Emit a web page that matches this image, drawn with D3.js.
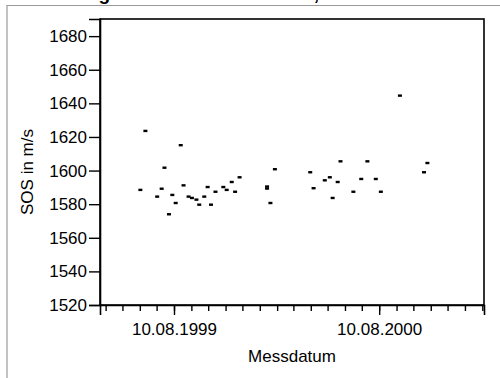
<!DOCTYPE html>
<html>
<head>
<meta charset="utf-8">
<script src="https://cdn.jsdelivr.net/npm/d3@7"></script>
<style>
  html, body { margin: 0; padding: 0; background: #fff; }
  svg { display: block; }
  text { font-family: "Liberation Sans", Arial, Helvetica, sans-serif; }
</style>
</head>
<body>
<svg id="chart" width="500" height="378"></svg>
<script>
// ---- data ----
const titleParts = ["Verlaufsmessung", "Tibia,"];
const yTitle = "SOS in m/s";
const xTitle = "Messdatum";
const measureDates = [
  "1999-06-11","1999-06-20","1999-07-11","1999-07-19","1999-07-24","1999-08-01",
  "1999-08-07","1999-08-13","1999-08-22","1999-08-27","1999-09-05","1999-09-11",
  "1999-09-19","1999-09-24","1999-10-03","1999-10-09","1999-10-15","1999-10-23",
  "1999-11-06","1999-11-12","1999-11-21","1999-11-27","1999-12-05","2000-01-23",
  "2000-01-23","2000-01-29","2000-02-06","2000-04-09","2000-04-15","2000-05-05",
  "2000-05-14","2000-05-19","2000-05-28","2000-06-02","2000-06-25","2000-07-09",
  "2000-07-20","2000-08-04","2000-08-13","2000-09-16","2000-10-29","2000-11-04"
];
const sosValues = [
  1588.5,1623.6,1584.5,1589.2,1601.7,1574.0,
  1585.5,1580.7,1615.1,1591.2,1584.5,1583.7,
  1582.7,1579.7,1584.5,1590.2,1579.7,1587.4,
  1590.2,1588.5,1593.2,1587.4,1596.0,1590.5,
  1589.3,1580.7,1600.8,1599.0,1589.5,1594.2,
  1596.0,1583.7,1593.2,1605.5,1587.4,1595.0,
  1605.5,1595.0,1587.4,1644.6,1599.0,1604.5
];
const yTicks = [1520,1540,1560,1580,1600,1620,1640,1660,1680];
const majorDates = ["1999-08-10","2000-08-10"];
const majorLabels = ["10.08.1999","10.08.2000"];
const xDomainDates = ["1999-03-31","2001-02-13"];
const yDomain = [1520, 1690.2];

// ---- layout ----
const svg = d3.select("#chart");
const L = 100, R = 484, T = 19, B = 305;
const FS = 17;
const parse = d3.utcParse("%Y-%m-%d");

const x = d3.scaleUtc().domain(xDomainDates.map(parse)).range([L, R]);
const y = d3.scaleLinear().domain(yDomain).range([B, T]);

// outer gray frame (clipped)
svg.append("path")
  .attr("d", `M7,378 V5.5 H500`)
  .attr("fill", "none").attr("stroke", "#9a9a9a").attr("stroke-width", 1.2);

// cut-off title (only descenders visible, as in the reference)
svg.append("text").attr("x", 110).attr("y", -0.5).attr("text-anchor", "end")
  .attr("font-size", 19).attr("font-weight", "bold").text(titleParts[0]);
svg.append("text").attr("x", 319).attr("y", -0.5).attr("text-anchor", "end")
  .attr("font-size", 19).attr("font-weight", "bold").text(titleParts[1]);

// plot frame
svg.append("rect").attr("x", L).attr("y", T).attr("width", R - L).attr("height", B - T)
  .attr("fill", "none").attr("stroke", "#000").attr("stroke-width", 1.6);

// y axis
const yAxis = d3.axisLeft(y).tickValues(yTicks).tickSize(11).tickPadding(2).tickFormat(d3.format("d"));
const gy = svg.append("g").attr("transform", `translate(${L},0)`).call(yAxis);
gy.select(".domain").attr("stroke-width", 1.6);
gy.selectAll(".tick line").attr("stroke-width", 1.4);
gy.selectAll(".tick text").attr("font-size", FS).attr("fill", "#000")
  .attr("font-family", "'Liberation Sans', Arial, sans-serif");

// x axis: monthly minor ticks on the 10th, major labeled ticks
const minorTicks = d3.utcMonth.range(parse("1999-04-01"), parse("2001-03-01"))
  .map(d => new Date(Date.UTC(d.getUTCFullYear(), d.getUTCMonth(), 10)))
  .filter(d => d >= x.domain()[0] && d <= x.domain()[1]);
const gxMinor = svg.append("g").attr("transform", `translate(0,${B})`)
  .call(d3.axisBottom(x).tickValues(minorTicks).tickSize(6).tickFormat(""));
gxMinor.select(".domain").remove();
gxMinor.selectAll(".tick line").attr("stroke-width", 1.4);

const majors = majorDates.map(parse);
const gx = svg.append("g").attr("transform", `translate(0,${B})`)
  .call(d3.axisBottom(x).tickValues(majors).tickSize(10).tickPadding(8)
    .tickFormat((d, i) => majorLabels[i]));
gx.select(".domain").attr("stroke-width", 1.6);
gx.selectAll(".tick line").attr("stroke-width", 1.4);
gx.selectAll(".tick text").attr("font-size", FS).attr("fill", "#000")
  .attr("font-family", "'Liberation Sans', Arial, sans-serif");

// axis titles
svg.append("text").attr("x", 292).attr("y", 362).attr("text-anchor", "middle")
  .attr("font-size", FS).text(xTitle);
svg.append("text").attr("transform", `translate(33,172) rotate(-90)`)
  .attr("text-anchor", "middle").attr("font-size", FS).text(yTitle);

// points
const pts = measureDates.map((d, i) => ({ date: parse(d), v: sosValues[i] }));
svg.append("g").selectAll("rect").data(pts).join("rect")
  .attr("x", d => x(d.date) - 2)
  .attr("y", d => y(d.v) - 1.2)
  .attr("width", 4).attr("height", 2.4)
  .attr("fill", "#000");
</script>
</body>
</html>
